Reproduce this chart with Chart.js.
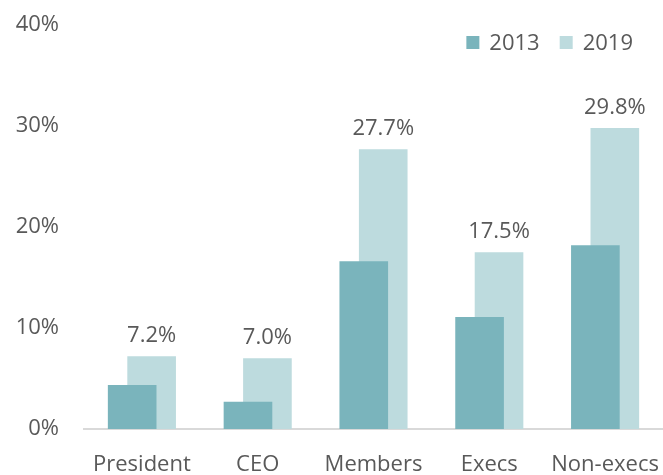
<!DOCTYPE html>
<html>
<head>
<meta charset="utf-8">
<script src="https://cdn.jsdelivr.net/npm/chart.js@4"></script>
<style>
  html, body { margin: 0; padding: 0; background: #fff; }
  #wrap { width: 663px; height: 475px; }
</style>
</head>
<body>
<div id="wrap"><canvas id="chart"></canvas></div>
<script>
    "use strict";

    // Data
    var categories = ["President", "CEO", "Members", "Execs", "Non-execs"];
    var values2013 = [4.35, 2.7, 16.6, 11.1, 18.2];
    var values2019 = [7.2, 7.0, 27.7, 17.5, 29.8];
    var yTicks = [0, 10, 20, 30, 40];

    var textColor = "#595959";
    var fontFamily = "'Open Sans', sans-serif";
    var fontSize = 22;

    // Shift each series sideways so the bars overlap like the original
    var overlapShift = {
        id: "overlapShift",
        afterDatasetsUpdate: function (chart) {
            var x = chart.scales.x;
            var step = x.width / categories.length;
            chart.data.datasets.forEach(function (ds, i) {
                var meta = chart.getDatasetMeta(i);
                meta.data.forEach(function (bar) {
                    bar.x += ds.shift * step;
                });
            });
        }
    };

    // Value labels above the 2019 bars
    var valueLabels = {
        id: "valueLabels",
        afterDatasetsDraw: function (chart) {
            var ctx = chart.ctx;
            var meta = chart.getDatasetMeta(1);
            ctx.save();
            ctx.font = fontSize + "px " + fontFamily;
            ctx.fillStyle = textColor;
            ctx.textAlign = "center";
            ctx.textBaseline = "alphabetic";
            meta.data.forEach(function (bar, i) {
                ctx.fillText(values2019[i].toFixed(1) + "%", bar.x, bar.y - 14);
            });
            ctx.restore();
        }
    };

    // Legend in the top right corner of the plot
    var cornerLegend = {
        id: "cornerLegend",
        afterDraw: function (chart) {
            var ctx = chart.ctx;
            var datasets = chart.data.datasets;
            var box = 13, gapText = 10, gapItem = 20;
            ctx.save();
            ctx.font = fontSize + "px " + fontFamily;
            ctx.textBaseline = "alphabetic";
            ctx.textAlign = "left";
            var total = 0;
            datasets.forEach(function (ds, i) {
                total += box + gapText + ctx.measureText(ds.label).width;
                if (i > 0) total += gapItem;
            });
            var x = chart.chartArea.right - 30 - total;
            var baseY = 50;
            datasets.forEach(function (ds) {
                ctx.fillStyle = ds.backgroundColor;
                ctx.fillRect(x, baseY - box - 1, box, box);
                x += box + gapText;
                ctx.fillStyle = textColor;
                ctx.fillText(ds.label, x, baseY);
                x += ctx.measureText(ds.label).width + gapItem;
            });
            ctx.restore();
        }
    };

    var ctx1 = document.getElementById("chart").getContext("2d");
    var myChart1 = new Chart(ctx1, {
        type: "bar",
        data: {
            labels: categories,
            datasets: [{
                    label: "2013",
                    data: values2013,
                    backgroundColor: "#7ab4bc",
                    order: 0,
                    shift: -0.084
                },
                {
                    label: "2019",
                    data: values2019,
                    backgroundColor: "#bddbde",
                    order: 1,
                    shift: 0.084
                }
            ]
        },
        options: {
            responsive: true,
            maintainAspectRatio: false,
            animation: false,
            grouped: false,
            barPercentage: 0.42,
            categoryPercentage: 1,
            layout: {
                padding: { top: 25, right: 0, bottom: 0, left: 0 }
            },
            scales: {
                x: {
                    grid: { display: false, drawTicks: false },
                    border: { display: true, color: "#d9d9d9", width: 2 },
                    ticks: {
                        color: textColor,
                        padding: 23,
                        font: { family: fontFamily, size: fontSize },
                        maxRotation: 0,
                        autoSkip: false
                    },
                    afterFit: function (scale) {
                        scale.height = 46;
                        scale.paddingLeft = 0;
                        scale.paddingRight = 0;
                    }
                },
                y: {
                    min: 0,
                    max: 40,
                    grid: { display: false, drawTicks: false },
                    border: { display: false },
                    afterBuildTicks: function (scale) {
                        scale.ticks = yTicks.map(function (v) { return { value: v }; });
                    },
                    ticks: {
                        color: textColor,
                        padding: 25,
                        font: { family: fontFamily, size: fontSize },
                        callback: function (v) { return v + "%"; }
                    },
                    afterFit: function (scale) {
                        scale.width = 84;
                        scale.paddingTop = 0;
                        scale.paddingBottom = 0;
                    }
                }
            },
            plugins: {
                legend: { display: false },
                tooltip: { enabled: false }
            }
        },
        plugins: [overlapShift, valueLabels, cornerLegend]
    });
</script>
</body>
</html>
